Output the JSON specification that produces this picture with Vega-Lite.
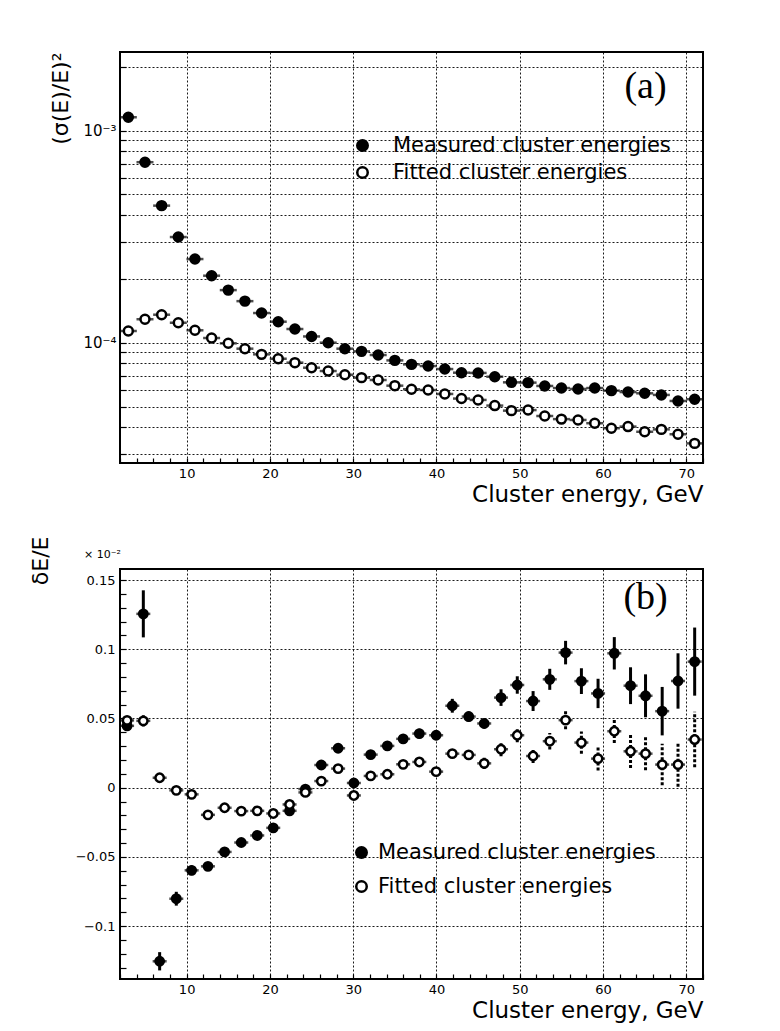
{
  "$schema": "https://vega.github.io/schema/vega-lite/v6.json",
  "background": "white",
  "padding": {"left": 28, "top": 51, "right": 5, "bottom": 5},
  "bounds": "flush",
  "spacing": 106,
  "config": {
    "font": "DejaVu Sans",
    "view": {"stroke": "black", "strokeWidth": 2},
    "axis": {
      "labelColor": "black", "titleColor": "black", "tickColor": "black",
      "gridColor": "black", "gridDash": [2, 2], "gridWidth": 0.9,
      "labelFont": "DejaVu Sans", "titleFont": "DejaVu Sans",
      "titleFontWeight": "normal", "domain": false
    },
    "legend": {
      "labelFont": "DejaVu Sans", "labelColor": "black", "labelFontSize": 21, "labelLimit": 0,
      "symbolStrokeColor": "black", "symbolStrokeWidth": 2.5, "symbolSize": 110,
      "symbolType": "circle", "padding": 0
    }
  },
  "resolve": {"scale": {"fill": "independent"}, "legend": {"fill": "independent"}},
  "datasets": {
    "a": [
      {"E": 3, "v": 0.001156, "series": "Measured cluster energies"},
      {"E": 5, "v": 0.00071, "series": "Measured cluster energies"},
      {"E": 7, "v": 0.000443, "series": "Measured cluster energies"},
      {"E": 9, "v": 0.000315, "series": "Measured cluster energies"},
      {"E": 11, "v": 0.000248, "series": "Measured cluster energies"},
      {"E": 13, "v": 0.000207, "series": "Measured cluster energies"},
      {"E": 15, "v": 0.000177, "series": "Measured cluster energies"},
      {"E": 17, "v": 0.000157, "series": "Measured cluster energies"},
      {"E": 19, "v": 0.000138, "series": "Measured cluster energies"},
      {"E": 21, "v": 0.0001256, "series": "Measured cluster energies"},
      {"E": 23, "v": 0.000116, "series": "Measured cluster energies"},
      {"E": 25, "v": 0.000107, "series": "Measured cluster energies"},
      {"E": 27, "v": 0.0001, "series": "Measured cluster energies"},
      {"E": 29, "v": 0.0000937, "series": "Measured cluster energies"},
      {"E": 31, "v": 0.000091, "series": "Measured cluster energies"},
      {"E": 33, "v": 0.0000875, "series": "Measured cluster energies"},
      {"E": 35, "v": 0.0000825, "series": "Measured cluster energies"},
      {"E": 37, "v": 0.000079, "series": "Measured cluster energies"},
      {"E": 39, "v": 0.0000776, "series": "Measured cluster energies"},
      {"E": 41, "v": 0.0000751, "series": "Measured cluster energies"},
      {"E": 43, "v": 0.0000722, "series": "Measured cluster energies"},
      {"E": 45, "v": 0.000072, "series": "Measured cluster energies"},
      {"E": 47, "v": 0.0000691, "series": "Measured cluster energies"},
      {"E": 49, "v": 0.000065, "series": "Measured cluster energies"},
      {"E": 51, "v": 0.0000648, "series": "Measured cluster energies"},
      {"E": 53, "v": 0.0000625, "series": "Measured cluster energies"},
      {"E": 55, "v": 0.0000611, "series": "Measured cluster energies"},
      {"E": 57, "v": 0.0000605, "series": "Measured cluster energies"},
      {"E": 59, "v": 0.0000611, "series": "Measured cluster energies"},
      {"E": 61, "v": 0.0000594, "series": "Measured cluster energies"},
      {"E": 63, "v": 0.0000585, "series": "Measured cluster energies"},
      {"E": 65, "v": 0.0000577, "series": "Measured cluster energies"},
      {"E": 67, "v": 0.0000567, "series": "Measured cluster energies"},
      {"E": 69, "v": 0.0000531, "series": "Measured cluster energies"},
      {"E": 71, "v": 0.0000541, "series": "Measured cluster energies"},
      {"E": 3, "v": 0.0001135, "series": "Fitted cluster energies"},
      {"E": 5, "v": 0.000129, "series": "Fitted cluster energies"},
      {"E": 7, "v": 0.0001355, "series": "Fitted cluster energies"},
      {"E": 9, "v": 0.0001242, "series": "Fitted cluster energies"},
      {"E": 11, "v": 0.0001144, "series": "Fitted cluster energies"},
      {"E": 13, "v": 0.0001052, "series": "Fitted cluster energies"},
      {"E": 15, "v": 0.0000993, "series": "Fitted cluster energies"},
      {"E": 17, "v": 0.0000937, "series": "Fitted cluster energies"},
      {"E": 19, "v": 0.0000881, "series": "Fitted cluster energies"},
      {"E": 21, "v": 0.000084, "series": "Fitted cluster energies"},
      {"E": 23, "v": 0.0000805, "series": "Fitted cluster energies"},
      {"E": 25, "v": 0.0000762, "series": "Fitted cluster energies"},
      {"E": 27, "v": 0.0000735, "series": "Fitted cluster energies"},
      {"E": 29, "v": 0.0000706, "series": "Fitted cluster energies"},
      {"E": 31, "v": 0.0000684, "series": "Fitted cluster energies"},
      {"E": 33, "v": 0.0000667, "series": "Fitted cluster energies"},
      {"E": 35, "v": 0.0000627, "series": "Fitted cluster energies"},
      {"E": 37, "v": 0.0000603, "series": "Fitted cluster energies"},
      {"E": 39, "v": 0.0000598, "series": "Fitted cluster energies"},
      {"E": 41, "v": 0.0000573, "series": "Fitted cluster energies"},
      {"E": 43, "v": 0.0000545, "series": "Fitted cluster energies"},
      {"E": 45, "v": 0.0000537, "series": "Fitted cluster energies"},
      {"E": 47, "v": 0.0000505, "series": "Fitted cluster energies"},
      {"E": 49, "v": 0.0000478, "series": "Fitted cluster energies"},
      {"E": 51, "v": 0.0000481, "series": "Fitted cluster energies"},
      {"E": 53, "v": 0.0000451, "series": "Fitted cluster energies"},
      {"E": 55, "v": 0.0000436, "series": "Fitted cluster energies"},
      {"E": 57, "v": 0.0000432, "series": "Fitted cluster energies"},
      {"E": 59, "v": 0.0000417, "series": "Fitted cluster energies"},
      {"E": 61, "v": 0.0000395, "series": "Fitted cluster energies"},
      {"E": 63, "v": 0.0000402, "series": "Fitted cluster energies"},
      {"E": 65, "v": 0.000038, "series": "Fitted cluster energies"},
      {"E": 67, "v": 0.000039, "series": "Fitted cluster energies"},
      {"E": 69, "v": 0.000037, "series": "Fitted cluster energies"},
      {"E": 71, "v": 0.0000335, "series": "Fitted cluster energies"}
    ],
    "b": [
      {"E": 2.85, "v": 0.0447, "err": 0.003, "series": "Measured cluster energies"},
      {"E": 4.8, "v": 0.1256, "err": 0.017, "series": "Measured cluster energies"},
      {"E": 6.76, "v": -0.1254, "err": 0.0066, "series": "Measured cluster energies"},
      {"E": 8.76, "v": -0.0802, "err": 0.005, "series": "Measured cluster energies"},
      {"E": 10.6, "v": -0.0597, "err": 0.0035, "series": "Measured cluster energies"},
      {"E": 12.56, "v": -0.0568, "err": 0.003, "series": "Measured cluster energies"},
      {"E": 14.56, "v": -0.0464, "err": 0.003, "series": "Measured cluster energies"},
      {"E": 16.56, "v": -0.0396, "err": 0.003, "series": "Measured cluster energies"},
      {"E": 18.48, "v": -0.0345, "err": 0.003, "series": "Measured cluster energies"},
      {"E": 20.4, "v": -0.029, "err": 0.003, "series": "Measured cluster energies"},
      {"E": 22.36, "v": -0.0167, "err": 0.003, "series": "Measured cluster energies"},
      {"E": 24.26, "v": -0.001, "err": 0.003, "series": "Measured cluster energies"},
      {"E": 26.17, "v": 0.0164, "err": 0.003, "series": "Measured cluster energies"},
      {"E": 28.19, "v": 0.0285, "err": 0.003, "series": "Measured cluster energies"},
      {"E": 30.08, "v": 0.0034, "err": 0.003, "series": "Measured cluster energies"},
      {"E": 32.1, "v": 0.0239, "err": 0.003, "series": "Measured cluster energies"},
      {"E": 34.1, "v": 0.0302, "err": 0.0032, "series": "Measured cluster energies"},
      {"E": 36.0, "v": 0.0353, "err": 0.0033, "series": "Measured cluster energies"},
      {"E": 37.94, "v": 0.0391, "err": 0.0035, "series": "Measured cluster energies"},
      {"E": 39.96, "v": 0.0379, "err": 0.0035, "series": "Measured cluster energies"},
      {"E": 41.9, "v": 0.0592, "err": 0.005, "series": "Measured cluster energies"},
      {"E": 43.87, "v": 0.0514, "err": 0.0036, "series": "Measured cluster energies"},
      {"E": 45.73, "v": 0.0464, "err": 0.0036, "series": "Measured cluster energies"},
      {"E": 47.75, "v": 0.0651, "err": 0.006, "series": "Measured cluster energies"},
      {"E": 49.7, "v": 0.0742, "err": 0.0063, "series": "Measured cluster energies"},
      {"E": 51.6, "v": 0.0626, "err": 0.0072, "series": "Measured cluster energies"},
      {"E": 53.6, "v": 0.0783, "err": 0.0076, "series": "Measured cluster energies"},
      {"E": 55.5, "v": 0.0976, "err": 0.0085, "series": "Measured cluster energies"},
      {"E": 57.4, "v": 0.077, "err": 0.0093, "series": "Measured cluster energies"},
      {"E": 59.4, "v": 0.0681, "err": 0.0106, "series": "Measured cluster energies"},
      {"E": 61.35, "v": 0.0971, "err": 0.0117, "series": "Measured cluster energies"},
      {"E": 63.3, "v": 0.0737, "err": 0.0133, "series": "Measured cluster energies"},
      {"E": 65.1, "v": 0.0664, "err": 0.0155, "series": "Measured cluster energies"},
      {"E": 67.1, "v": 0.0553, "err": 0.0175, "series": "Measured cluster energies"},
      {"E": 69.0, "v": 0.0771, "err": 0.02, "series": "Measured cluster energies"},
      {"E": 71.0, "v": 0.0911, "err": 0.0246, "series": "Measured cluster energies"},
      {"E": 2.85, "v": 0.0486, "err": 0.002, "series": "Fitted cluster energies"},
      {"E": 4.8, "v": 0.0483, "err": 0.004, "series": "Fitted cluster energies"},
      {"E": 6.76, "v": 0.0072, "err": 0.002, "series": "Fitted cluster energies"},
      {"E": 8.76, "v": -0.0019, "err": 0.002, "series": "Fitted cluster energies"},
      {"E": 10.6, "v": -0.0048, "err": 0.002, "series": "Fitted cluster energies"},
      {"E": 12.56, "v": -0.0196, "err": 0.002, "series": "Fitted cluster energies"},
      {"E": 14.56, "v": -0.0145, "err": 0.002, "series": "Fitted cluster energies"},
      {"E": 16.56, "v": -0.0169, "err": 0.002, "series": "Fitted cluster energies"},
      {"E": 18.48, "v": -0.0167, "err": 0.002, "series": "Fitted cluster energies"},
      {"E": 20.4, "v": -0.0186, "err": 0.002, "series": "Fitted cluster energies"},
      {"E": 22.36, "v": -0.0121, "err": 0.002, "series": "Fitted cluster energies"},
      {"E": 24.26, "v": -0.0034, "err": 0.002, "series": "Fitted cluster energies"},
      {"E": 26.17, "v": 0.0048, "err": 0.002, "series": "Fitted cluster energies"},
      {"E": 28.19, "v": 0.0138, "err": 0.002, "series": "Fitted cluster energies"},
      {"E": 30.08, "v": -0.0056, "err": 0.002, "series": "Fitted cluster energies"},
      {"E": 32.1, "v": 0.0085, "err": 0.002, "series": "Fitted cluster energies"},
      {"E": 34.1, "v": 0.0097, "err": 0.002, "series": "Fitted cluster energies"},
      {"E": 36.0, "v": 0.0169, "err": 0.002, "series": "Fitted cluster energies"},
      {"E": 37.94, "v": 0.0186, "err": 0.002, "series": "Fitted cluster energies"},
      {"E": 39.96, "v": 0.0116, "err": 0.002, "series": "Fitted cluster energies"},
      {"E": 41.9, "v": 0.0246, "err": 0.003, "series": "Fitted cluster energies"},
      {"E": 43.87, "v": 0.0237, "err": 0.003, "series": "Fitted cluster energies"},
      {"E": 45.73, "v": 0.0176, "err": 0.004, "series": "Fitted cluster energies"},
      {"E": 47.75, "v": 0.0278, "err": 0.005, "series": "Fitted cluster energies"},
      {"E": 49.7, "v": 0.0379, "err": 0.005, "series": "Fitted cluster energies"},
      {"E": 51.6, "v": 0.0229, "err": 0.005, "series": "Fitted cluster energies"},
      {"E": 53.6, "v": 0.0336, "err": 0.006, "series": "Fitted cluster energies"},
      {"E": 55.5, "v": 0.0488, "err": 0.0065, "series": "Fitted cluster energies"},
      {"E": 57.4, "v": 0.0326, "err": 0.008, "series": "Fitted cluster energies"},
      {"E": 59.4, "v": 0.021, "err": 0.0085, "series": "Fitted cluster energies"},
      {"E": 61.35, "v": 0.0408, "err": 0.0085, "series": "Fitted cluster energies"},
      {"E": 63.3, "v": 0.0263, "err": 0.012, "series": "Fitted cluster energies"},
      {"E": 65.1, "v": 0.0246, "err": 0.012, "series": "Fitted cluster energies"},
      {"E": 67.1, "v": 0.0167, "err": 0.015, "series": "Fitted cluster energies"},
      {"E": 69.0, "v": 0.0167, "err": 0.016, "series": "Fitted cluster energies"},
      {"E": 71.0, "v": 0.0348, "err": 0.02, "series": "Fitted cluster energies"}
    ],
    "alab": [{"E": 65.1, "v": 0.0016, "label": "(a)"}],
    "blab": [{"E": 65.1, "v": 0.137, "label": "(b)"}]
  },
  "vconcat": [
    {
      "width": 583,
      "height": 411,
      "encoding": {
        "x": {
          "field": "E", "type": "quantitative",
          "scale": {"domain": [2, 72], "nice": false, "zero": false},
          "axis": {
            "values": [2, 4, 6, 8, 10, 12, 14, 16, 18, 20, 22, 24, 26, 28, 30, 32, 34, 36, 38, 40, 42, 44, 46, 48, 50, 52, 54, 56, 58, 60, 62, 64, 66, 68, 70, 72],
            "title": "Cluster energy, GeV", "titleAnchor": "end", "titleFontSize": 23, "titlePadding": 3,
            "labelExpr": "datum.value % 10 === 0 ? datum.label : ''",
            "labelFontSize": 13, "labelPadding": 9, "labelOverlap": false, "labelFlush": false,
            "tickSize": -5, "tickWidth": 1.2,
            "grid": true,
            "gridOpacity": {"condition": {"test": "datum.value % 10 === 0", "value": 1}, "value": 0}
          }
        },
        "y": {
          "field": "v", "type": "quantitative",
          "scale": {"type": "log", "domain": [0.00002707, 0.00235], "nice": false},
          "axis": {
            "values": [0.00003, 0.00004, 0.00005, 0.00006, 0.00007, 0.00008, 0.00009, 0.0001, 0.0002, 0.0003, 0.0004, 0.0005, 0.0006, 0.0007, 0.0008, 0.0009, 0.001, 0.002],
            "labelExpr": "datum.value === 0.001 ? '10⁻³' : (datum.value === 0.0001 ? '10⁻⁴' : '')",
            "labelFontSize": 15, "labelPadding": 10, "labelOverlap": false,
            "tickSize": -6, "tickWidth": 1.2,
            "grid": true,
            "title": "(σ(E)/E)²", "titleFontSize": 22,
            "titleX": -60, "titleY": 0, "titleAlign": "right", "titleBaseline": "middle", "titleAngle": 270
          }
        }
      },
      "layer": [
        {
          "data": {"name": "a"},
          "mark": {"type": "tick", "orient": "horizontal", "size": 17, "thickness": 2.5, "color": "black"}
        },
        {
          "data": {"name": "a"},
          "mark": {"type": "point", "filled": true, "shape": "circle", "size": 80, "stroke": "black", "strokeWidth": 2.5, "opacity": 1},
          "encoding": {
            "fill": {
              "field": "series", "type": "nominal",
              "scale": {"domain": ["Measured cluster energies", "Fitted cluster energies"], "range": ["black", "white"]},
              "legend": {"title": null, "orient": "none", "legendX": 232, "legendY": 83, "rowPadding": 5, "labelOffset": 20}
            }
          }
        },
        {
          "data": {"name": "alab"},
          "mark": {"type": "text", "font": "Liberation Serif", "fontSize": 38, "color": "black", "baseline": "middle", "align": "center"},
          "encoding": {"text": {"field": "label"}}
        }
      ]
    },
    {
      "width": 583,
      "height": 410,
      "title": {"text": "× 10⁻²", "anchor": "start", "frame": "group", "fontSize": 11, "font": "DejaVu Sans", "fontWeight": "normal", "color": "black", "dx": -36, "offset": -24},
      "encoding": {
        "x": {
          "field": "E", "type": "quantitative",
          "scale": {"domain": [2, 72], "nice": false, "zero": false},
          "axis": {
            "values": [2, 4, 6, 8, 10, 12, 14, 16, 18, 20, 22, 24, 26, 28, 30, 32, 34, 36, 38, 40, 42, 44, 46, 48, 50, 52, 54, 56, 58, 60, 62, 64, 66, 68, 70, 72],
            "title": "Cluster energy, GeV", "titleAnchor": "end", "titleFontSize": 23, "titlePadding": 3,
            "labelExpr": "datum.value % 10 === 0 ? datum.label : ''",
            "labelFontSize": 13, "labelPadding": 9, "labelOverlap": false, "labelFlush": false,
            "tickSize": -5, "tickWidth": 1.2,
            "grid": true,
            "gridOpacity": {"condition": {"test": "datum.value % 10 === 0", "value": 1}, "value": 0}
          }
        },
        "y": {
          "field": "v", "type": "quantitative",
          "scale": {"domain": [-0.1382, 0.158], "nice": false, "zero": false},
          "axis": {
            "values": [-0.13, -0.12, -0.11, -0.1, -0.09, -0.08, -0.07, -0.06, -0.05, -0.04, -0.03, -0.02, -0.01, 0, 0.01, 0.02, 0.03, 0.04, 0.05, 0.06, 0.07, 0.08, 0.09, 0.1, 0.11, 0.12, 0.13, 0.14, 0.15],
            "labelExpr": "abs(round(datum.value * 100) % 5) === 0 ? format(datum.value, '~g') : ''",
            "labelFontSize": 13, "labelPadding": 11, "labelOverlap": false,
            "tickSize": -6, "tickWidth": 1.2,
            "grid": true,
            "gridOpacity": {"condition": {"test": "abs(round(datum.value * 100) % 5) === 0", "value": 1}, "value": 0},
            "title": "δE/E", "titleFontSize": 22,
            "titleX": -80, "titleY": -33, "titleAlign": "right", "titleBaseline": "middle", "titleAngle": 270
          }
        }
      },
      "layer": [
        {
          "data": {"name": "b"},
          "transform": [{"filter": "datum.series === 'Measured cluster energies'"}],
          "mark": {"type": "errorbar", "thickness": 3, "color": "black"},
          "encoding": {"yError": {"field": "err"}}
        },
        {
          "data": {"name": "b"},
          "transform": [{"filter": "datum.series === 'Fitted cluster energies'"}],
          "mark": {"type": "errorbar", "thickness": 3, "color": "black", "rule": {"strokeDash": [3, 2]}},
          "encoding": {"yError": {"field": "err"}}
        },
        {
          "data": {"name": "b"},
          "mark": {"type": "tick", "orient": "horizontal", "size": 14, "thickness": 2.5, "color": "black"}
        },
        {
          "data": {"name": "b"},
          "mark": {"type": "point", "filled": true, "shape": "circle", "size": 70, "stroke": "black", "strokeWidth": 2.5, "opacity": 1},
          "encoding": {
            "fill": {
              "field": "series", "type": "nominal",
              "scale": {"domain": ["Measured cluster energies", "Fitted cluster energies"], "range": ["black", "white"]},
              "legend": {"title": null, "orient": "none", "legendX": 231, "legendY": 273, "rowPadding": 12, "labelOffset": 6}
            }
          }
        },
        {
          "data": {"name": "blab"},
          "mark": {"type": "text", "font": "Liberation Serif", "fontSize": 38, "color": "black", "baseline": "middle", "align": "center"},
          "encoding": {"text": {"field": "label"}}
        }
      ]
    }
  ]
}
